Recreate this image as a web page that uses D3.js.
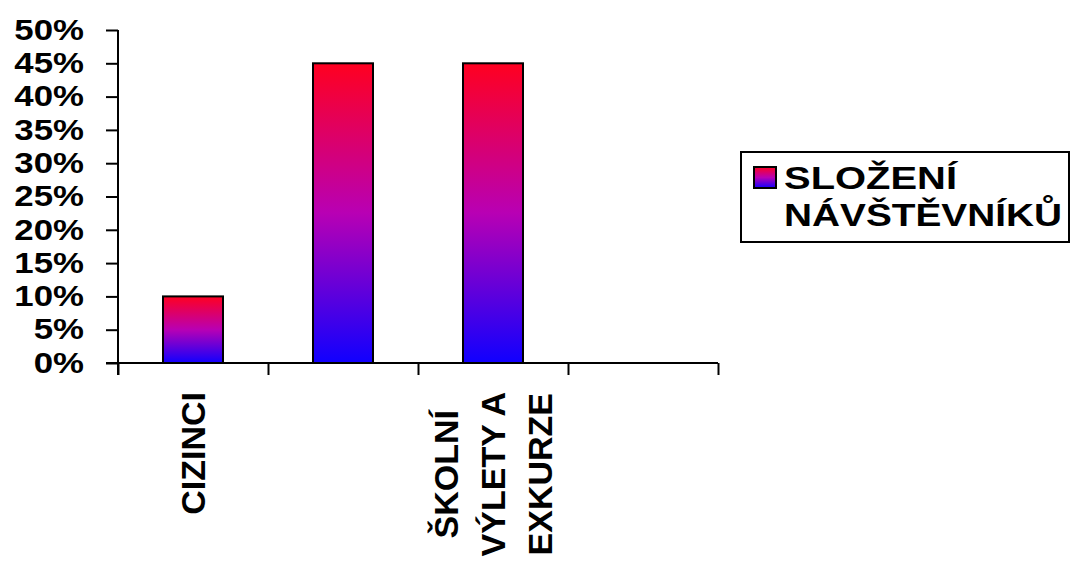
<!DOCTYPE html>
<html>
<head>
<meta charset="utf-8">
<script src="https://cdn.jsdelivr.net/npm/d3@7"></script>
<style>
  body { margin: 0; background: #fff; }
  svg text { font-family: "Liberation Sans", Arial, sans-serif; font-weight: bold; fill: #000; }
</style>
</head>
<body>
<div id="chart"></div>
<script>
// data
let categories = ['CIZINCI', '', 'ŠKOLNÍ VÝLETY A EXKURZE', '']
let labelLines = [['CIZINCI'], [], ['ŠKOLNÍ', 'VÝLETY A', 'EXKURZE'], []]
let values = [0.10, 0.45, 0.45, null]
let yTicks = [0, 0.05, 0.10, 0.15, 0.20, 0.25, 0.30, 0.35, 0.40, 0.45, 0.50]
let seriesName = ['SLOŽENÍ', 'NÁVŠTĚVNÍKŮ']

let W = 1072, H = 561
let plot = {left: 118, right: 718, top: 30, bottom: 363}

let svg = d3.select('#chart').append('svg').attr('width', W).attr('height', H)

let defs = svg.append('defs')
let grad = defs.append('linearGradient')
    .attr('id', 'barGrad')
    .attr('x1', 0).attr('y1', 0).attr('x2', 0).attr('y2', 1)
grad.append('stop').attr('offset', '0%').attr('stop-color', '#ff0020')
grad.append('stop').attr('offset', '50%').attr('stop-color', '#b800b4')
grad.append('stop').attr('offset', '100%').attr('stop-color', '#1000ff')

let idx = d3.range(categories.length)

let xScale = d3.scaleBand()
    .domain(idx)
    .range([plot.left, plot.right])
    .paddingInner(0.6)
    .paddingOuter(0.3)

// ticks sit on the category boundaries
let xEdge = d3.scaleLinear().domain([0, categories.length]).range([plot.left, plot.right])

let yScale = d3.scaleLinear().domain([0, 0.5]).range([plot.bottom, plot.top])

// bars
svg.append('g')
    .selectAll('rect')
    .data(idx.filter(i => values[i] != null))
    .enter()
    .append('rect')
    .attr('x', i => xScale(i))
    .attr('y', i => yScale(values[i]))
    .attr('width', xScale.bandwidth())
    .attr('height', i => yScale(0) - yScale(values[i]))
    .attr('fill', 'url(#barGrad)')
    .attr('stroke', '#000')
    .attr('stroke-width', 2)

// y axis
let yAxis = d3.axisLeft(yScale)
    .tickValues(yTicks)
    .tickFormat(d3.format('.0%'))
    .tickSize(12)
    .tickPadding(22)
let yg = svg.append('g')
    .attr('transform', 'translate(' + plot.left + ',0)')
    .call(yAxis)
yg.select('.domain').attr('d', 'M0,' + plot.top + 'V' + (plot.bottom + 12)).attr('stroke-width', 2)
yg.selectAll('.tick line').attr('stroke-width', 2)
// slightly smaller, widened glyphs so neighbouring labels don't collide
yg.selectAll('.tick text')
    .attr('font-size', 29)
    .attr('font-family', null)
    .attr('x', null)
    .attr('transform', 'translate(-34,0) scale(1.2,1)')

// x axis
let xAxis = d3.axisBottom(xEdge)
    .tickValues(d3.range(categories.length + 1))
    .tickFormat('')
    .tickSize(12)
let xg = svg.append('g')
    .attr('transform', 'translate(0,' + plot.bottom + ')')
    .call(xAxis)
xg.select('.domain').attr('d', 'M' + (plot.left - 12) + ',0H' + plot.right).attr('stroke-width', 2)
xg.selectAll('.tick line').attr('stroke-width', 2)

// category labels, rotated, lines centred on each other
let lineGap = 47
let labG = svg.append('g')
idx.forEach(i => {
  let lines = labelLines[i]
  if (!lines.length) return
  let cx = xScale(i) + xScale.bandwidth() / 2
  // measure longest line first
  let longest = 0
  lines.forEach(ln => {
    let tmp = labG.append('text').attr('font-size', 34).text(ln)
    longest = Math.max(longest, tmp.node().getComputedTextLength())
    tmp.remove()
  })
  lines.forEach((ln, j) => {
    let baseX = cx + 12 + (j - (lines.length - 1) / 2) * lineGap
    let midY = 392 + longest / 2
    labG.append('text')
        .attr('font-size', 34)
        .attr('text-anchor', 'middle')
        .attr('transform', 'translate(' + baseX + ',' + midY + ') rotate(-90)')
        .text(ln)
  })
})

// legend
let lg = svg.append('g')
lg.append('rect')
    .attr('x', 741).attr('y', 152).attr('width', 328).attr('height', 90)
    .attr('fill', '#fff').attr('stroke', '#000').attr('stroke-width', 2)
lg.append('rect')
    .attr('x', 754).attr('y', 167).attr('width', 22).attr('height', 21)
    .attr('fill', 'url(#barGrad)').attr('stroke', '#000').attr('stroke-width', 2)
seriesName.forEach((s, j) => {
  lg.append('text')
      .attr('x', 784).attr('y', 189 + j * 37)
      .attr('font-size', 32)
      .attr('textLength', j === 0 ? 173 : 278)
      .attr('lengthAdjust', 'spacingAndGlyphs')
      .text(s)
})
</script>
</body>
</html>
